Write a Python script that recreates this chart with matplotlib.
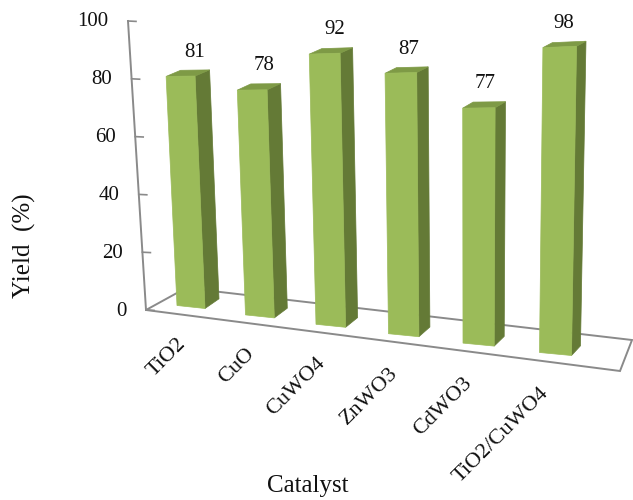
import matplotlib
matplotlib.use("Agg")
import matplotlib.pyplot as plt
from matplotlib.patches import Polygon

plt.rcParams['font.family'] = ['Liberation Serif', 'DejaVu Serif']

catalysts = ["TiO2", "CuO", "CuWO4", "ZnWO3", "CdWO3", "TiO2/CuWO4"]
yields = [81, 78, 92, 87, 77, 98]
y_ticks = [0, 20, 40, 60, 80, 100]
x_title = "Catalyst"
y_title = "Yield  (%)"

FRONT, SIDE, TOP = "#9BBB59", "#647A36", "#7E9A46"
GREY = "#8A8A8A"
TEXT = "#111111"


def project(i, a, d, z):
    """Pseudo-3D scale: category i, across a, depth d, value z -> pixels."""
    x = 177 + 67.5 * i + 1.0 * i * i + a * (28 + 0.8 * i) + d * (14 - 1.0 * i)
    y = 305.5 + 9.4 * i + a * (3 - 0.02 * z) - d * (9.7 - 0.055 * z)
    s = 2.85 + (x - 205) * 0.00078
    lean = -0.043 + (x - 205) * 0.000162
    return x + lean * s * z, y - s * z


def wall(v):
    return 146 - 0.18 * v, 310 - 2.89 * v


fig = plt.figure(figsize=(6.33, 5.0), dpi=100, facecolor="white")
ax = fig.add_axes([0, 0, 1, 1])
ax.set_xlim(0, 633)
ax.set_ylim(500, 0)
ax.axis("off")

# floor frame and value axis
floor = [(146, 310), (186, 288), (632, 340), (620, 371)]
ax.add_patch(Polygon(floor, closed=True, fill=False, ec=GREY, lw=1.4, zorder=1))
ax.plot(*zip(wall(0), wall(100)), color=GREY, lw=1.4, zorder=1)
for v in y_ticks:
    x0, y0 = wall(v)
    ax.plot([x0, x0 + 8], [y0, y0 + 0.4], color=GREY, lw=1.2, zorder=1)
    ax.text(x0 - 19.5, y0 + 1, str(v), ha="right", va="center", fontsize=15, color=TEXT)

# bars
for i, z in enumerate(yields):
    front = [project(i, 0, 0, 0), project(i, 1, 0, 0), project(i, 1, 0, z), project(i, 0, 0, z)]
    side = [project(i, 1, 0, 0), project(i, 1, 1, 0), project(i, 1, 1, z), project(i, 1, 0, z)]
    top = [project(i, 0, 0, z), project(i, 1, 0, z), project(i, 1, 1, z), project(i, 0, 1, z)]
    for pts, col in ((side, SIDE), (top, TOP), (front, FRONT)):
        ax.add_patch(Polygon(pts, closed=True, fc=col, ec=col, lw=0.5, zorder=2 + i))
    lx, ly = project(i, 0.5, 0.5, z)
    ax.text(lx + 7 - 1.5 * i, ly - 21, str(z), ha="center", va="center", fontsize=15,
            color=TEXT, zorder=10)

# category labels
for i, name in enumerate(catalysts):
    x, y = project(i, 0.5, 0, 0)
    ax.text(x - 15 - 0.2 * i, y + 27 + 0.6 * i, name, rotation=45, ha="right", va="top",
            rotation_mode="anchor", fontsize=16, color=TEXT)

ax.text(308, 486, x_title, ha="center", va="center", fontsize=18, color=TEXT)
ax.text(24, 246, y_title, rotation=90, ha="center", va="center", fontsize=18, color=TEXT)

fig.savefig("out.png", dpi=100, facecolor="white")
